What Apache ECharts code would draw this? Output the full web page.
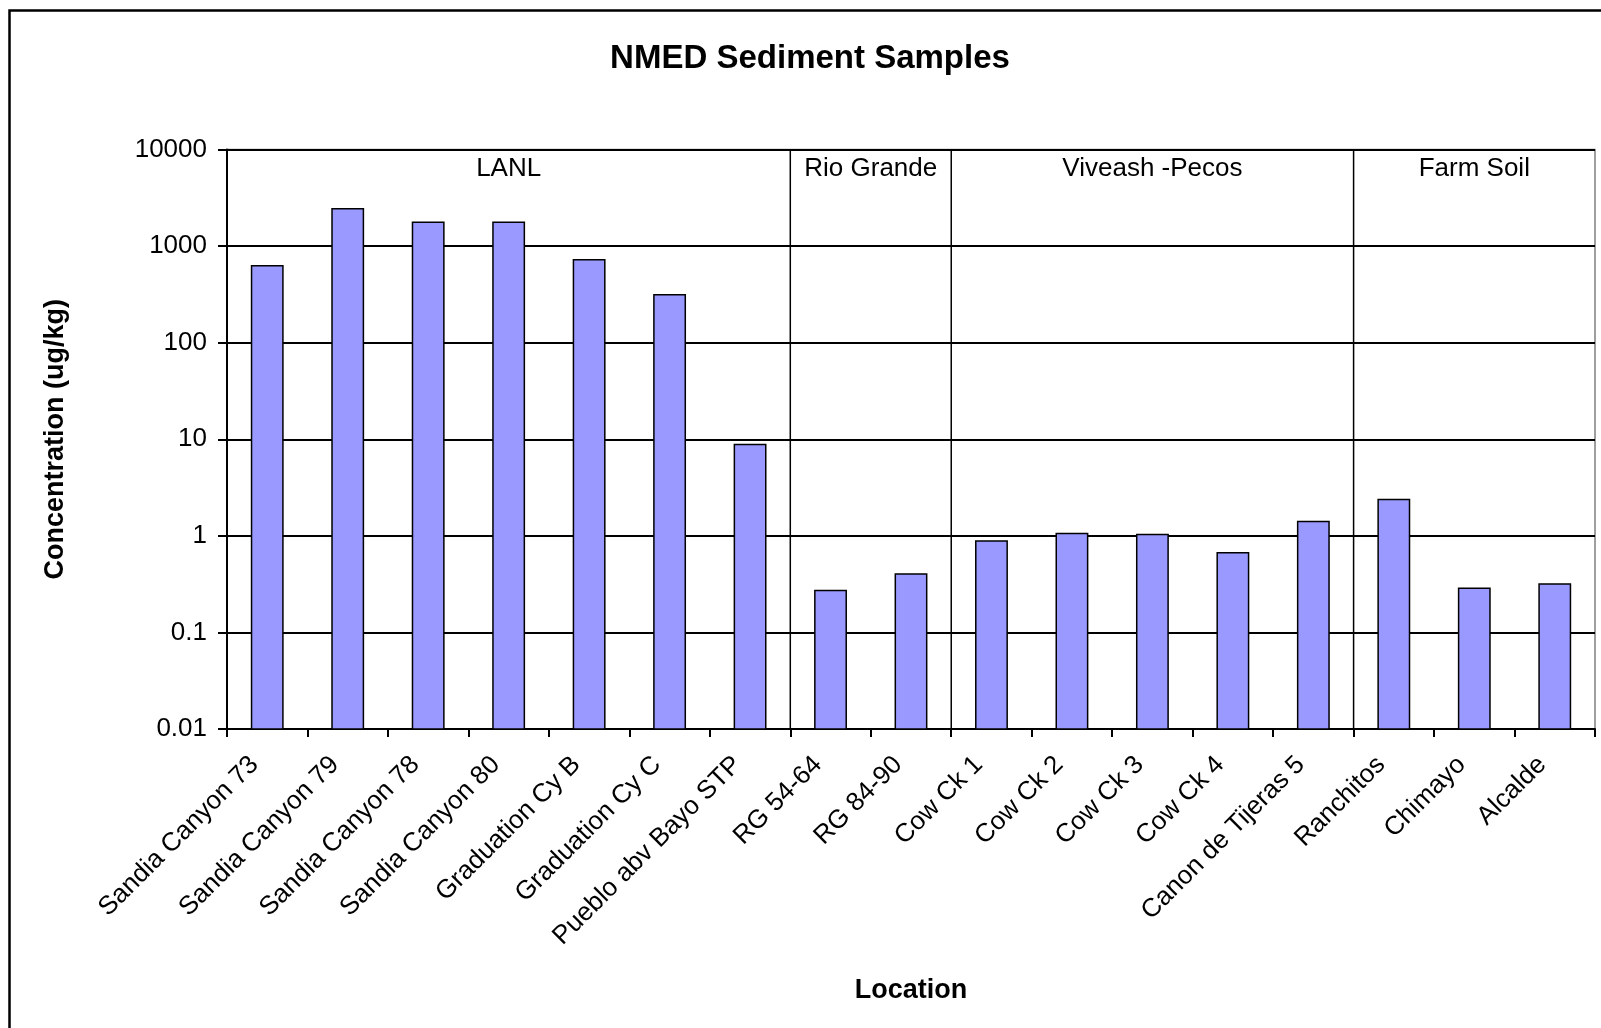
<!DOCTYPE html>
<html>
<head>
<meta charset="utf-8">
<script src="https://cdn.jsdelivr.net/npm/echarts@6/dist/echarts.min.js"></script>
<style>
html,body{margin:0;padding:0;background:#fff;}
#chart{width:1601px;height:1028px;}
</style>
</head>
<body>
<div id="chart"></div>
<script>
const categories = ['Sandia Canyon 73','Sandia Canyon 79','Sandia Canyon 78','Sandia Canyon 80','Graduation Cy B','Graduation Cy C','Pueblo abv Bayo STP','RG 54-64','RG 84-90','Cow Ck 1','Cow Ck 2','Cow Ck 3','Cow Ck 4','Canon de Tijeras 5','Ranchitos','Chimayo','Alcalde'];
const concentrations = [625, 2430, 1760, 1760, 722, 314, 8.8, 0.272, 0.403, 0.883, 1.06, 1.03, 0.668, 1.41, 2.38, 0.286, 0.318];
const groupNames = ['LANL', 'Rio Grande', 'Viveash -Pecos', 'Farm Soil'];
const groupStarts = [0, 7, 9, 14];
const groupEnds = [7, 9, 14, 17];
const yTickLabels = ['0.01','0.1','1','10','100','1000','10000'];

const FONT = '"Liberation Sans", Arial, sans-serif';
const Y_MIN = 0.01, Y_MAX = 10000;
const chart = echarts.init(document.getElementById('chart'), null, {renderer: 'canvas'});

const groupData = groupNames.map((n, i) => [groupStarts[i], groupEnds[i], n]);
const barData = concentrations.map((v, i) => [i, v]);

chart.setOption({
  animation: false,
  backgroundColor: '#fff',
  textStyle: {fontFamily: FONT, color: '#000'},
  title: {
    text: 'NMED Sediment Samples',
    left: 805, top: 37, textAlign: 'center',
    textStyle: {fontFamily: FONT, fontSize: 33, fontWeight: 'bold', color: '#000'}
  },
  graphic: [{
    type: 'rect', left: 7, top: 8, silent: true,
    shape: {width: 1620, height: 1050},
    style: {fill: null, stroke: '#000', lineWidth: 2.5}
  }],
  grid: {left: 227, right: 6, top: 149.5, bottom: 299, show: true, borderColor: '#808080', borderWidth: 1.5},
  xAxis: [{
    type: 'category',
    data: categories,
    name: 'Location',
    nameLocation: 'middle',
    nameGap: 248,
    nameTextStyle: {fontFamily: FONT, fontSize: 27, fontWeight: 'bold', color: '#000'},
    axisLine: {lineStyle: {color: '#000', width: 2}},
    axisTick: {show: true, length: 8, lineStyle: {color: '#000', width: 2}},
    axisLabel: {rotate: 45, interval: 0, margin: 19, padding: [0, 18, 0, 0], fontFamily: FONT, fontSize: 26, color: '#000'}
  }, {
    type: 'value', min: 0, max: 17, show: false
  }],
  yAxis: {
    type: 'log',
    logBase: 10,
    min: Y_MIN, max: Y_MAX,
    interval: 1,
    name: 'Concentration (ug/kg)',
    nameLocation: 'middle',
    nameGap: 158,
    nameRotate: 90,
    nameTextStyle: {fontFamily: FONT, fontSize: 27, fontWeight: 'bold', color: '#000'},
    axisLine: {show: true, lineStyle: {color: '#000', width: 2}},
    axisTick: {show: true, length: 9, lineStyle: {color: '#000', width: 2}},
    axisLabel: {
      margin: 20, fontFamily: FONT, fontSize: 26, color: '#000',
      formatter: v => yTickLabels[Math.round(Math.log10(v)) + 2]
    },
    splitLine: {show: true, lineStyle: {color: '#000', width: 2}}
  },
  series: [{
    type: 'custom',
    xAxisIndex: 0,
    data: barData,
    renderItem: function (params, api) {
      const idx = api.value(0), v = api.value(1);
      const topPt = api.coord([idx, v]);
      const basePt = api.coord([idx, Y_MIN]);
      const w = api.size([1, 0])[0] * 0.39;
      return {
        type: 'rect',
        shape: {x: topPt[0] - w / 2, y: topPt[1], width: w, height: basePt[1] - topPt[1]},
        style: {fill: '#9999FF', stroke: '#000', lineWidth: 1.5}
      };
    }
  }, {
    type: 'custom',
    xAxisIndex: 1,
    data: groupData,
    silent: true,
    renderItem: function (params, api) {
      const s = api.value(0), e = api.value(1);
      const top = api.coord([s, Y_MAX]);
      const bot = api.coord([s, Y_MIN]);
      const midTop = api.coord([(s + e) / 2, Y_MAX]);
      const children = [];
      if (s > 0) {
        children.push({
          type: 'line',
          shape: {x1: top[0], y1: top[1], x2: bot[0], y2: bot[1]},
          style: {stroke: '#000', lineWidth: 1.5}
        });
      }
      children.push({
        type: 'text',
        style: {
          text: groupNames[params.dataIndex],
          x: midTop[0], y: midTop[1] + 19,
          textAlign: 'center', textVerticalAlign: 'middle',
          font: '26px ' + FONT, fill: '#000'
        }
      });
      return {type: 'group', children: children};
    }
  }]
});
</script>
</body>
</html>
